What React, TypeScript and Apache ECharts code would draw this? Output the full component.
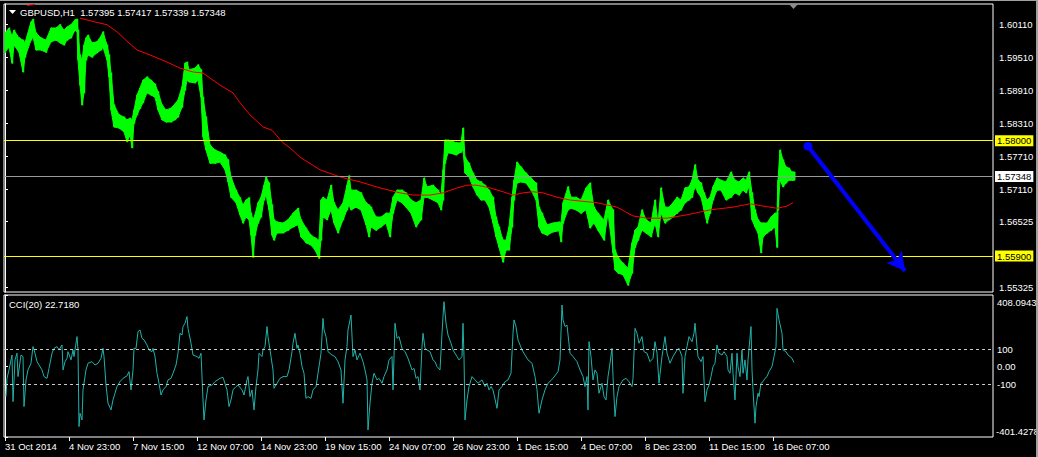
import React, { useEffect, useRef } from 'react';
import * as echarts from 'echarts';

const FONT = "'Liberation Sans', Arial, sans-serif";
const FS = 9.5;

const SYMBOL = 'GBPUSD,H1';
const OHLC = ['1.57395', '1.57417', '1.57339', '1.57348'];
const CCI_NAME = 'CCI(20)';
const CCI_LAST = 22.718;

const TIME_TICK_HOURS = [0, 64, 128, 192, 256, 320, 384, 448, 512, 576, 640, 704, 768];
const TIME_LABELS = [
  '31 Oct 2014', '4 Nov 23:00', '7 Nov 15:00', '12 Nov 07:00', '14 Nov 23:00', '19 Nov 15:00',
  '24 Nov 07:00', '26 Nov 23:00', '1 Dec 15:00', '4 Dec 07:00', '8 Dec 23:00', '11 Dec 15:00', '16 Dec 07:00',
];

const PRICE_TICKS = [1.6011, 1.5951, 1.5891, 1.5831, 1.5771, 1.5711, 1.56525, 1.55325];
const PRICE_MIN = 1.55246;
const PRICE_MAX = 1.60487;
const LEVEL_UPPER = 1.58;
const LEVEL_LOWER = 1.559;
const LAST_PRICE = 1.57348;

const CCI_MIN = -401.4278;
const CCI_MAX = 408.0943;
const CCI_TICKS = [100, 0, -100];
const CCI_LEVELS = [100, -100];

const LAST_HOUR = 790;

// [hour, high, low] price ranges of the hourly bars
const PRICE_RANGES: [number, number, number][] = [
  [0, 1.5996, 1.5961], [4, 1.6005, 1.597], [7, 1.599, 1.5941], [9, 1.6001, 1.5974], [14, 1.5987, 1.5961],
  [18, 1.5983, 1.5925], [20, 1.5978, 1.5952], [26, 1.6016, 1.5983], [28, 1.6021, 1.5989], [31, 1.5996, 1.5965],
  [36, 1.5987, 1.5965], [41, 1.5983, 1.5961], [46, 1.6005, 1.598], [51, 1.6005, 1.5983], [55, 1.6011, 1.5978],
  [59, 1.6001, 1.5974], [62, 1.6007, 1.5983], [66, 1.6011, 1.5987], [70, 1.602, 1.6001], [72, 1.6021, 1.5998],
  [73, 1.6001, 1.5947], [75, 1.5956, 1.5901], [77, 1.5947, 1.5865], [79, 1.5974, 1.5887], [81, 1.5987, 1.5947],
  [83, 1.5992, 1.5956], [87, 1.5978, 1.5952], [92, 1.598, 1.596], [96, 1.599, 1.5965], [98, 1.5998, 1.597],
  [102, 1.5974, 1.5947], [104, 1.5956, 1.5916], [106, 1.5923, 1.5856], [109, 1.5865, 1.5825], [114, 1.5847, 1.5823],
  [119, 1.5843, 1.5816], [122, 1.5838, 1.5798], [125, 1.5841, 1.581], [127, 1.5838, 1.5787], [129, 1.5856, 1.5832],
  [132, 1.5883, 1.5847], [135, 1.5896, 1.5859], [138, 1.591, 1.5869], [142, 1.5916, 1.5887], [146, 1.591, 1.5883],
  [150, 1.5903, 1.5879], [153, 1.5889, 1.5856], [157, 1.5865, 1.5838], [161, 1.5856, 1.5834], [166, 1.5859, 1.5834],
  [170, 1.5867, 1.5838], [173, 1.5874, 1.5843], [177, 1.5898, 1.5861], [180, 1.5941, 1.5892], [182, 1.5943, 1.591],
  [184, 1.5929, 1.5907], [190, 1.5932, 1.5905], [193, 1.5938, 1.591], [196, 1.5929, 1.5879], [198, 1.5879, 1.5807],
  [201, 1.5843, 1.5783], [205, 1.5792, 1.5759], [210, 1.5783, 1.5759], [215, 1.5779, 1.5761], [220, 1.5774, 1.5747],
  [223, 1.5765, 1.5725], [226, 1.5734, 1.5697], [231, 1.571, 1.5687], [235, 1.5696, 1.5665], [238, 1.5683, 1.565],
  [241, 1.5692, 1.5661], [244, 1.5696, 1.5656], [246, 1.5668, 1.5628], [248, 1.5656, 1.5588], [250, 1.5665, 1.5628],
  [253, 1.5687, 1.565], [256, 1.5697, 1.5661], [259, 1.5719, 1.5692], [261, 1.5734, 1.5701], [264, 1.5723, 1.5674],
  [267, 1.5683, 1.5628], [269, 1.5656, 1.5619], [272, 1.5652, 1.5632], [278, 1.565, 1.5632], [283, 1.5656, 1.5637],
  [288, 1.5668, 1.5643], [293, 1.5677, 1.5647], [296, 1.5656, 1.5625], [301, 1.5641, 1.5614], [306, 1.5628, 1.561],
  [310, 1.5623, 1.5601], [314, 1.5619, 1.5586], [316, 1.5692, 1.5619], [318, 1.5697, 1.5661], [322, 1.5692, 1.5656],
  [326, 1.5719, 1.5674], [329, 1.5687, 1.565], [333, 1.5674, 1.5632], [338, 1.5687, 1.5656], [342, 1.5719, 1.5674],
  [344, 1.5736, 1.5683], [346, 1.571, 1.5674], [351, 1.571, 1.5679], [356, 1.5705, 1.5674], [361, 1.5687, 1.5647],
  [364, 1.5683, 1.5625], [366, 1.5679, 1.5643], [371, 1.5661, 1.5637], [376, 1.5661, 1.5643], [381, 1.5668, 1.565],
  [385, 1.5668, 1.5625], [388, 1.5697, 1.5668], [392, 1.571, 1.5692], [397, 1.571, 1.5687], [401, 1.5705, 1.5679],
  [406, 1.5692, 1.5668], [411, 1.5687, 1.5643], [416, 1.5692, 1.5656], [419, 1.5732, 1.5697], [422, 1.5716, 1.5697],
  [428, 1.5719, 1.5692], [433, 1.571, 1.5687], [436, 1.5701, 1.5674], [438, 1.5747, 1.5692], [440, 1.5801, 1.5759],
  [443, 1.5801, 1.5778], [448, 1.5798, 1.5776], [451, 1.5796, 1.5774], [456, 1.5796, 1.5779], [458, 1.5823, 1.5783],
  [460, 1.577, 1.5741], [464, 1.5759, 1.5734], [468, 1.5741, 1.5716], [472, 1.5728, 1.5701], [476, 1.5725, 1.5692],
  [480, 1.5719, 1.5692], [484, 1.571, 1.5679], [488, 1.5697, 1.565], [491, 1.5661, 1.5625], [494, 1.5643, 1.5606],
  [498, 1.5619, 1.5579], [501, 1.5619, 1.5601], [504, 1.5643, 1.5601], [507, 1.5697, 1.5643], [509, 1.5728, 1.5692],
  [512, 1.5761, 1.5723], [516, 1.5752, 1.5725], [521, 1.5741, 1.5723], [526, 1.5732, 1.571], [531, 1.5723, 1.5692],
  [534, 1.5679, 1.5643], [537, 1.5668, 1.5632], [542, 1.5647, 1.5628], [548, 1.565, 1.5634], [554, 1.5652, 1.5636],
  [556, 1.565, 1.5616], [558, 1.5687, 1.565], [563, 1.5716, 1.5674], [566, 1.5697, 1.5677], [571, 1.5697, 1.5674],
  [576, 1.5692, 1.5668], [581, 1.5714, 1.5674], [585, 1.5723, 1.5641], [589, 1.5679, 1.565], [593, 1.5668, 1.5637],
  [599, 1.5656, 1.5619], [603, 1.5692, 1.5668], [608, 1.5674, 1.5596], [610, 1.5601, 1.5565], [613, 1.5588, 1.5559],
  [618, 1.5577, 1.5556], [623, 1.5568, 1.5537], [627, 1.5614, 1.5559], [630, 1.5637, 1.5606], [633, 1.5643, 1.5619],
  [637, 1.5674, 1.5637], [641, 1.5656, 1.5632], [646, 1.565, 1.5625], [650, 1.5692, 1.565], [653, 1.565, 1.5625],
  [656, 1.5714, 1.5668], [660, 1.5679, 1.565], [664, 1.5679, 1.5656], [668, 1.5687, 1.5661], [672, 1.5697, 1.5668],
  [676, 1.5692, 1.5674], [680, 1.5714, 1.5687], [684, 1.5716, 1.5692], [687, 1.5728, 1.5697], [690, 1.5756, 1.5716],
  [693, 1.5728, 1.5705], [696, 1.5723, 1.5697], [699, 1.5705, 1.5674], [702, 1.5692, 1.565], [705, 1.5697, 1.5668],
  [708, 1.5716, 1.5692], [712, 1.5732, 1.571], [716, 1.5728, 1.571], [721, 1.5725, 1.5692], [726, 1.5743, 1.5697],
  [730, 1.5728, 1.5705], [734, 1.5725, 1.5701], [738, 1.5732, 1.571], [741, 1.5728, 1.5705], [744, 1.5743, 1.5716],
  [747, 1.5705, 1.5656], [750, 1.5674, 1.5643], [753, 1.5656, 1.5632], [756, 1.565, 1.5596], [758, 1.565, 1.5625],
  [762, 1.565, 1.5632], [766, 1.5661, 1.5637], [770, 1.5668, 1.5643], [772, 1.5668, 1.5606], [773, 1.5728, 1.5674],
  [775, 1.5783, 1.5728], [778, 1.5765, 1.5716], [781, 1.5752, 1.5723], [784, 1.575, 1.5728], [787, 1.5743, 1.5728],
];

// [hour, value] moving average
const MA_POINTS: [number, number | string][] = [
  [22, 1.6046], [30, 1.6048], [31, '-'], [75, 1.6023], [90, 1.6016], [102, 1.6011], [112, 1.5998], [122, 1.5981],
  [132, 1.5965], [145, 1.5956], [162, 1.5943], [175, 1.5932], [188, 1.5925], [198, 1.5923], [205, 1.5914],
  [215, 1.5901], [228, 1.5887], [235, 1.5869], [245, 1.5847], [258, 1.5825], [267, 1.5819], [278, 1.5796],
  [285, 1.5787], [295, 1.577], [315, 1.5747], [335, 1.5734], [355, 1.5725], [375, 1.5714], [395, 1.5705],
  [408, 1.5701], [425, 1.5701], [438, 1.5705], [452, 1.5714], [462, 1.5719], [472, 1.5719], [485, 1.5714],
  [498, 1.5707], [508, 1.5701], [518, 1.5705], [528, 1.5707], [538, 1.5705], [552, 1.5697], [565, 1.5692],
  [592, 1.5687], [612, 1.5679], [628, 1.5663], [642, 1.5659], [662, 1.5659], [682, 1.5665], [705, 1.5674],
  [728, 1.5679], [745, 1.5685], [758, 1.5681], [772, 1.5677], [782, 1.5681], [788, 1.5687],
];

// [hour, value] CCI(20)
const CCI_POINTS: [number, number][] = [
  [1, -171], [2, -67], [4, -19], [7, 66], [8, -200], [10, 38], [12, 76], [13, -57], [16, 66], [18, 57], [19, -228],
  [21, -76], [23, -19], [26, 19], [28, 114], [30, 76], [32, 28], [34, 9], [37, -19], [39, -57], [42, -67], [44, -10],
  [47, 76], [49, 104], [52, 114], [54, 95], [57, 123], [58, -19], [60, 28], [62, 47], [63, 85], [66, 38], [68, 95],
  [69, 57], [72, 171], [73, 95], [74, -342], [75, -266], [77, -304], [78, -133], [81, -19], [83, 19], [87, 28],
  [90, 9], [93, 19], [96, 47], [98, 104], [99, 57], [101, -105], [103, -209], [106, -247], [108, -190], [110, -152],
  [112, -114], [115, -86], [118, -67], [122, -53], [124, -29], [126, -133], [128, -19], [129, 104], [131, 104],
  [133, 199], [135, 209], [137, 161], [139, 152], [142, 123], [144, 95], [147, 85], [148, 104], [150, 57], [152, -38],
  [154, -95], [156, -162], [158, -133], [161, -114], [163, -76], [166, -67], [168, -38], [171, 9], [173, 76],
  [175, 190], [177, 180], [178, 228], [180, 247], [182, 285], [183, 218], [186, 133], [188, 66], [192, 57], [194, 47],
  [196, 76], [198, -190], [199, -304], [201, -190], [203, -114], [207, -105], [210, -86], [215, -67], [218, -61],
  [222, -133], [224, -228], [226, -190], [228, -133], [231, -114], [233, -105], [237, -133], [239, -162], [242, -76],
  [243, -57], [245, -171], [247, -133], [249, -247], [251, -114], [253, -19], [254, 76], [257, 57], [258, 95],
  [260, 114], [262, 228], [263, 171], [266, 57], [268, -19], [269, -124], [272, -95], [275, -67], [278, -57],
  [282, -57], [284, -19], [287, 85], [288, 133], [290, 190], [292, 104], [293, 123], [295, 76], [297, 0], [299, -38],
  [301, -181], [303, -171], [306, -181], [308, -133], [311, -114], [313, -38], [316, 76], [318, 275], [319, 209],
  [321, 171], [323, 85], [327, 66], [330, 57], [333, 28], [336, -19], [338, -209], [340, 38], [342, 114], [343, 209],
  [346, 294], [348, 57], [350, 95], [352, 38], [355, 76], [358, 28], [360, -19], [362, -76], [363, -361], [365, -209],
  [367, -95], [369, -38], [372, -76], [374, -67], [377, -95], [379, -57], [382, -19], [384, 38], [387, 57], [388, -133],
  [390, 247], [392, 161], [394, 171], [397, 104], [400, 85], [403, 47], [407, -19], [409, -10], [411, -67], [413, -57],
  [415, -133], [417, 114], [418, 190], [420, 104], [422, 95], [425, 85], [428, 38], [430, 28], [432, 0], [435, -19],
  [437, 190], [438, 285], [439, 370], [441, 247], [443, 180], [446, 133], [448, 95], [452, 57], [454, 38], [457, 57],
  [458, 247], [459, 57], [460, -304], [462, -190], [464, -114], [467, -57], [470, -76], [473, -95], [477, -76],
  [480, -114], [482, -95], [484, -133], [486, -114], [488, -133], [492, -238], [494, -133], [497, -114], [500, -86],
  [503, -76], [506, -38], [508, 190], [509, 266], [511, 228], [513, 152], [517, 95], [520, 66], [523, 38], [527, 19],
  [530, -57], [532, -133], [534, -266], [537, -190], [540, -133], [543, -95], [548, -67], [553, -29], [555, 38],
  [557, 351], [558, 266], [560, 228], [562, 237], [565, 76], [568, 57], [572, 28], [575, -19], [578, -57], [580, -114],
  [582, -57], [583, -247], [584, 142], [586, 57], [588, -76], [590, -19], [592, -38], [594, -152], [597, -95],
  [599, -171], [601, -190], [603, -57], [605, 19], [607, 104], [608, -57], [610, -285], [612, -171], [614, -114],
  [618, -76], [621, -67], [624, -86], [627, -114], [628, -67], [630, 218], [632, 190], [634, 133], [637, 171],
  [639, 85], [642, 76], [645, 28], [648, 47], [650, 142], [652, 76], [654, -95], [657, 57], [660, 171], [662, 76],
  [665, 19], [668, 57], [672, 95], [674, 104], [677, 57], [678, -152], [680, 57], [682, 114], [684, 171], [687, 142],
  [689, 190], [690, 247], [692, 114], [693, 57], [696, 28], [698, 57], [699, -76], [700, -200], [702, -133],
  [704, -105], [706, -57], [708, 0], [710, 19], [712, 123], [714, 76], [717, 66], [719, 85], [722, 57], [723, -19],
  [725, -38], [727, 76], [728, -38], [730, -190], [732, 76], [733, 0], [735, -57], [737, 95], [738, -38], [740, 38],
  [742, -76], [743, 38], [746, 228], [747, -19], [748, -133], [750, -323], [751, -228], [753, -152], [754, -171],
  [756, -95], [758, -86], [760, -67], [762, -57], [764, -29], [767, 0], [769, 57], [771, 114], [772, 332], [774, 266],
  [777, 190], [778, 95], [781, 85], [783, 66], [785, 57], [787, 47], [789, 23],
];

// trend arrow anchors [hour, price]
const ARROW_START: [number, number] = [803, 1.579];
const ARROW_END: [number, number] = [900, 1.5563];

export default function App() {
  const ref = useRef<HTMLDivElement>(null);

  useEffect(() => {
    if (!ref.current) return;
    const chart = echarts.init(ref.current, undefined, { renderer: 'svg' });

    // each band piece joins one reading's high/low to the next reading's
    const bandData = PRICE_RANGES.map((r, i) => {
      const n = i + 1 < PRICE_RANGES.length ? PRICE_RANGES[i + 1] : [LAST_HOUR, r[1], r[2]];
      return [r[0], n[0], r[1], r[2], n[1], n[2]];
    });

    const levelLabel = (bg: string, text: string) => ({
      show: true,
      position: 'end',
      formatter: text,
      backgroundColor: bg,
      color: '#000',
      fontSize: FS,
      fontFamily: FONT,
      padding: [1, 2, 0, 2],
      distance: 2,
    });

    const option: any = {
      animation: false,
      backgroundColor: '#000',
      textStyle: { fontFamily: FONT },
      grid: [
        { left: 4, top: 4, width: 989, height: 288, show: true, borderColor: '#fff', borderWidth: 1, backgroundColor: '#000' },
        { left: 4, top: 295, width: 989, height: 142, show: true, borderColor: '#fff', borderWidth: 1, backgroundColor: '#000' },
      ],
      xAxis: [
        { type: 'value', gridIndex: 0, min: -1, max: 988, show: false },
        {
          type: 'value', gridIndex: 1, min: -1, max: 988,
          axisLine: { show: false, onZero: false },
          splitLine: { show: false },
          axisTick: { show: true, customValues: TIME_TICK_HOURS, length: 4, lineStyle: { color: '#fff' } },
          axisLabel: {
            customValues: TIME_TICK_HOURS,
            formatter: (v: number) => TIME_LABELS[TIME_TICK_HOURS.indexOf(v)] ?? '',
            color: '#fff', fontSize: FS, fontFamily: FONT, align: 'left', margin: 4,
          },
        },
      ],
      yAxis: [
        {
          type: 'value', gridIndex: 0, position: 'right', min: PRICE_MIN, max: PRICE_MAX,
          splitLine: { show: false },
          axisLine: { show: true, lineStyle: { color: '#fff' } },
          axisTick: { show: true, customValues: PRICE_TICKS, length: 3, lineStyle: { color: '#fff' } },
          axisLabel: {
            customValues: PRICE_TICKS, formatter: (v: number) => v.toFixed(5),
            color: '#fff', fontSize: FS, fontFamily: FONT, margin: 6,
          },
        },
        {
          type: 'value', gridIndex: 1, position: 'right', min: CCI_MIN, max: CCI_MAX,
          splitLine: { show: false },
          axisLine: { show: true, lineStyle: { color: '#fff' } },
          axisTick: { show: true, customValues: [CCI_MAX, ...CCI_TICKS, CCI_MIN], length: 3, lineStyle: { color: '#fff' } },
          axisLabel: {
            customValues: CCI_TICKS,
            formatter: (v: number) => (v === 0 ? '0.00' : String(v)),
            color: '#fff', fontSize: FS, fontFamily: FONT, margin: 4,
          },
        },
      ],
      series: [
        {
          type: 'custom',
          xAxisIndex: 0, yAxisIndex: 0,
          data: bandData,
          encode: { x: [0, 1], y: [2, 3, 4, 5] },
          clip: true,
          silent: true,
          renderItem: (_p: any, api: any) => {
            const a = api.coord([api.value(0), api.value(2)]);
            const b = api.coord([api.value(1), api.value(4)]);
            const c = api.coord([api.value(1), api.value(5)]);
            const d = api.coord([api.value(0), api.value(3)]);
            return {
              type: 'group',
              children: [
                {
                  type: 'polygon',
                  shape: { points: [a, b, c, d] },
                  style: { fill: '#00ff00', stroke: '#00ff00', lineWidth: 1 },
                },
                {
                  type: 'line',
                  shape: { x1: a[0] + 0.5, y1: a[1] - 0.5, x2: d[0] + 0.5, y2: d[1] + 0.5 },
                  style: { stroke: '#00ff00', lineWidth: 1.5 },
                },
              ],
            };
          },
        },
        {
          type: 'line',
          xAxisIndex: 0, yAxisIndex: 0,
          data: MA_POINTS,
          showSymbol: false, symbol: 'none',
          connectNulls: false,
          clip: true,
          silent: true,
          lineStyle: { color: '#ff0000', width: 1 },
          markLine: {
            silent: true,
            precision: 5,
            symbol: ['none', 'none'],
            animation: false,
            data: [
              { yAxis: LEVEL_UPPER, lineStyle: { color: '#ffff00', width: 1, type: 'solid' }, label: levelLabel('#ffff00', LEVEL_UPPER.toFixed(5)) },
              { yAxis: LAST_PRICE, lineStyle: { color: '#9a9a9a', width: 1, type: 'solid' }, label: levelLabel('#ffffff', LAST_PRICE.toFixed(5)) },
              { yAxis: LEVEL_LOWER, lineStyle: { color: '#ffff00', width: 1, type: 'solid' }, label: levelLabel('#ffff00', LEVEL_LOWER.toFixed(5)) },
              [
                { coord: ARROW_START, symbol: 'circle', symbolSize: 9, lineStyle: { color: '#0000ff', width: 4, type: 'solid' }, label: { show: false } },
                { coord: ARROW_END, symbol: 'arrow', symbolSize: [15, 18] },
              ],
            ],
          },
        },
        {
          type: 'line',
          xAxisIndex: 1, yAxisIndex: 1,
          data: CCI_POINTS,
          showSymbol: false, symbol: 'none',
          silent: true,
          lineStyle: { color: '#20b2aa', width: 1 },
          markLine: {
            silent: true,
            precision: 4,
            symbol: ['none', 'none'],
            label: { show: false },
            lineStyle: { color: '#c8c8c8', width: 1, type: [3, 3] },
            data: CCI_LEVELS.map((v) => ({ yAxis: v })),
          },
        },
      ],
      graphic: [
        { type: 'polygon', shape: { points: [[9, 10], [16, 10], [12.5, 14]] }, style: { fill: '#ffffff' }, silent: true },
        {
          type: 'text', x: 20, y: 12, silent: true,
          style: { text: `${SYMBOL}  ${OHLC.join(' ')}`, fill: '#ffffff', font: `${FS}px ${FONT}`, verticalAlign: 'middle' },
        },
        {
          type: 'text', x: 9, y: 304, silent: true,
          style: { text: `${CCI_NAME} ${CCI_LAST.toFixed(4)}`, fill: '#ffffff', font: `${FS}px ${FONT}`, verticalAlign: 'middle' },
        },
        {
          type: 'text', x: 997, y: 302, silent: true,
          style: { text: CCI_MAX.toFixed(4), fill: '#ffffff', font: `${FS}px ${FONT}`, verticalAlign: 'middle' },
        },
        {
          type: 'text', x: 996, y: 431, silent: true,
          style: { text: CCI_MIN.toFixed(4), fill: '#ffffff', font: `${FS}px ${FONT}`, verticalAlign: 'middle' },
        },
        { type: 'polygon', shape: { points: [[789, 4], [798, 4], [793.5, 9]] }, style: { fill: '#8c8c8c' }, silent: true },
        { type: 'rect', shape: { x: 1036, y: 0, width: 2, height: 457 }, style: { fill: '#a0a0a0' }, silent: true },
        { type: 'rect', shape: { x: 0, y: 0, width: 1038, height: 1 }, style: { fill: '#a0a0a0' }, silent: true },
      ],
    };

    chart.setOption(option);
    return () => chart.dispose();
  }, []);

  return <div ref={ref} style={{ position: 'fixed', left: 0, top: 0, width: 1038, height: 457, background: '#000' }} />;
}
